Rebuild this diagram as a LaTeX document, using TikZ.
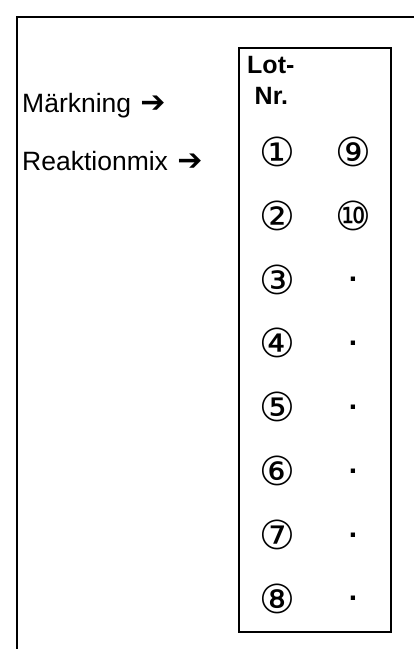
\documentclass[tikz,border=0pt]{standalone}
\usepackage{fontspec}
\setmainfont{Liberation Sans}
\newfontfamily\symfont{DejaVu Sans}
\usetikzlibrary{positioning}
\newcommand{\rowarrow}{\hspace{0.35em}{\symfont\bfseries\fontsize{30}{30}\selectfont ➔}}
\tikzset{
  rowlabel/.style={anchor=base west,inner sep=0pt,font=\fontsize{26.5}{28}\selectfont},
  headtext/.style={anchor=north west,inner sep=0pt,align=left,font=\bfseries\fontsize{25}{31}\selectfont},
  lotnum/.style={inner sep=0pt,font=\symfont\fontsize{40}{40}\selectfont},
  gapdot/.style={inner sep=0pt,font=\bfseries\fontsize{30}{30}\selectfont},
  lotbox/.style={draw,line width=1.5pt,anchor=north west,minimum width=152pt,minimum height=584pt},
  frameline/.style={line width=2pt}
}

\begin{document}
\begin{tikzpicture}[x=1pt,y=-1pt,node distance=63.8pt and 76pt,on grid]
  \useasboundingbox (0,0) rectangle (414,649);
  \draw[frameline] (414,17) -| (17,649);

  \node[lotbox] (box) at (238,47) {};
  \node[headtext] (lothead) at (247,56) {Lot-\\\hspace{0.3em}Nr.};

  \node[rowlabel] (mark) at (22,112) {Märkning\rowarrow};
  \node[rowlabel] (mix) at (22,170) {Reaktionmix\rowarrow};

  \node[lotnum] (n1) at (277,152) {①};
  \node[lotnum, below=of n1] (n2) {②};
  \node[lotnum, below=of n2] (n3) {③};
  \node[lotnum, below=of n3] (n4) {④};
  \node[lotnum, below=of n4] (n5) {⑤};
  \node[lotnum, below=of n5] (n6) {⑥};
  \node[lotnum, below=of n6] (n7) {⑦};
  \node[lotnum, below=of n7] (n8) {⑧};

  \node[lotnum, right=of n1] (n9) {⑨};
  \node[lotnum, right=of n2] (n10) {⑩};
  \node[gapdot, right=of n3] (d3) {.};
  \node[gapdot, right=of n4] (d4) {.};
  \node[gapdot, right=of n5] (d5) {.};
  \node[gapdot, right=of n6] (d6) {.};
  \node[gapdot, right=of n7] (d7) {.};
  \node[gapdot, right=of n8] (d8) {.};
\end{tikzpicture}
\end{document}
